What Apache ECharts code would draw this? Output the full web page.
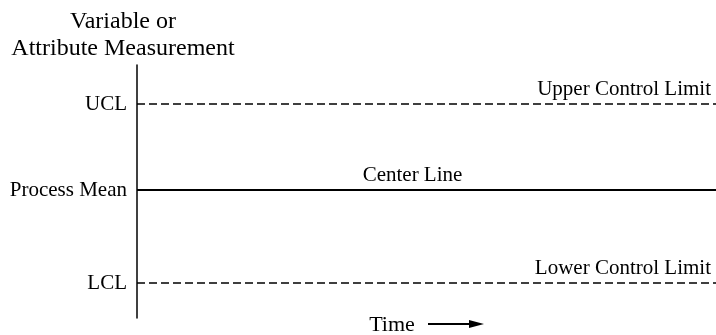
<!DOCTYPE html>
<html>
<head>
<meta charset="utf-8">
<script src="https://cdn.jsdelivr.net/npm/echarts@6/dist/echarts.min.js"></script>
<style>html,body{margin:0;padding:0;background:#fff}#c{width:716px;height:335px}</style>
</head>
<body>
<div id="c"></div>
<script>
// Levels on a 0..253 vertical scale
const levelTicks = ['UCL', 'Process Mean', 'LCL'];
const levelValues = [214, 128, 35];
const lineNames = ['Upper Control Limit', 'Center Line', 'Lower Control Limit'];
const lineKinds = ['dashed', 'solid', 'dashed'];
const timeRange = [0, 100];
const yRange = [0, 253];

const FONT = 'Liberation Serif';
const chart = echarts.init(document.getElementById('c'), null, {renderer: 'canvas'});

const markData = levelValues.map((v, i) => ({
  yAxis: v,
  name: lineNames[i],
  lineStyle: lineKinds[i] === 'dashed'
    ? {type: [8, 4], width: 1.6, color: '#000'}
    : {type: 'solid', width: 2.2, color: '#000'},
  label: {
    show: true,
    formatter: lineNames[i],
    position: lineKinds[i] === 'dashed' ? 'insideEndTop' : 'insideMiddleTop',
    offset: lineKinds[i] === 'dashed' ? [-1, 0] : [-14, 0],
    distance: 4,
    color: '#000',
    fontFamily: FONT,
    fontSize: 21
  }
}));

chart.setOption({
  animation: false,
  backgroundColor: '#fff',
  title: {
    text: 'Variable or\nAttribute Measurement',
    left: 118,
    top: 3,
    textAlign: 'center',
    textStyle: {fontFamily: FONT, fontSize: 24, fontWeight: 'normal', color: '#000', lineHeight: 27}
  },
  grid: {left: 137, right: 0, top: 65, bottom: 17, containLabel: false, outerBoundsMode: 'none'},
  xAxis: {
    type: 'value',
    min: timeRange[0],
    max: timeRange[1],
    axisLine: {show: false},
    axisTick: {show: false},
    axisLabel: {show: false},
    splitLine: {show: false},
    name: 'Time',
    nameLocation: 'middle',
    nameGap: -4,
    nameTextStyle: {fontFamily: FONT, fontSize: 22, color: '#000', padding: [0, 69, 0, 0]}
  },
  yAxis: {
    type: 'value',
    min: yRange[0],
    max: yRange[1],
    axisLine: {show: true, lineStyle: {color: '#000', width: 1.5}},
    axisTick: {show: false},
    splitLine: {show: false},
    axisLabel: {
      customValues: levelValues,
      formatter: v => levelTicks[levelValues.indexOf(v)] || '',
      margin: 10,
      color: '#000',
      fontFamily: FONT,
      fontSize: 21
    }
  },
  series: [{
    type: 'line',
    data: [],
    silent: true,
    markLine: {
      silent: true,
      symbol: ['none', 'none'],
      data: markData
    }
  }],
  graphic: [
    {type: 'line', shape: {x1: 428, y1: 324, x2: 474, y2: 324}, style: {stroke: '#000', lineWidth: 2}},
    {type: 'polygon', shape: {points: [[469, 320], [484, 324], [469, 328]]}, style: {fill: '#000'}}
  ]
});
</script>
</body>
</html>
